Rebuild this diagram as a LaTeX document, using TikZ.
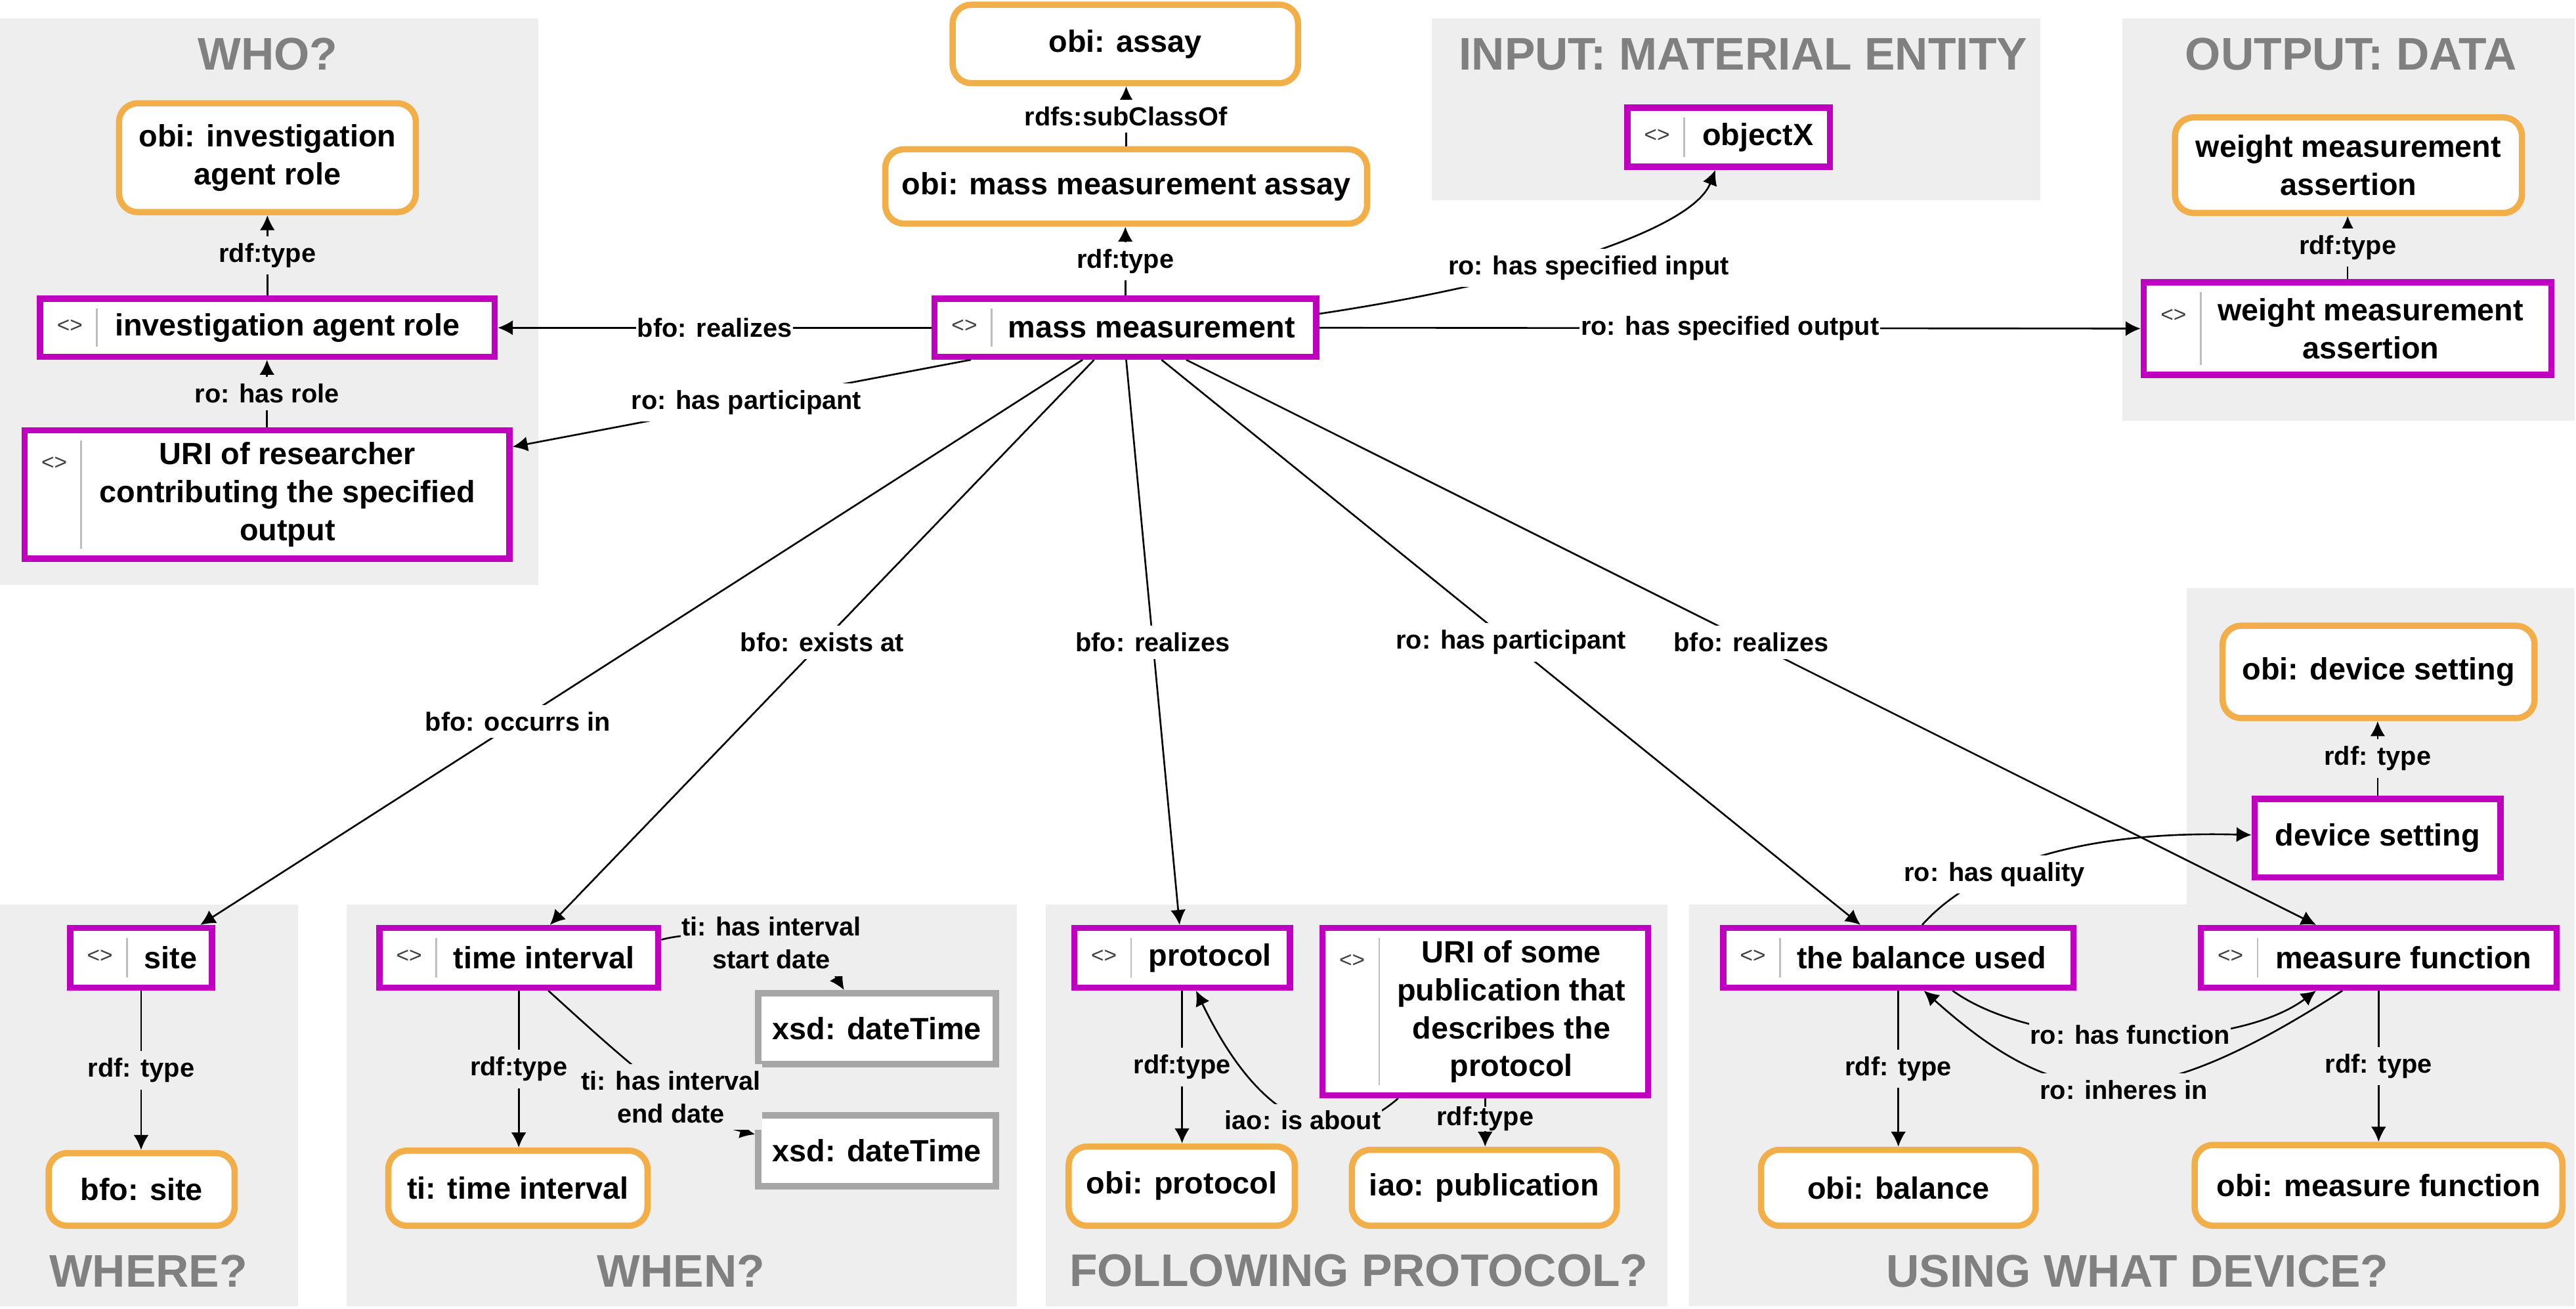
\documentclass[tikz,border=0pt]{standalone}
\usepackage{fontspec}
\setmainfont{Liberation Sans}
\usetikzlibrary{arrows.meta,calc}
\definecolor{purp}{RGB}{191,0,191}
\definecolor{oran}{RGB}{242,174,72}
\definecolor{regbg}{RGB}{238,238,238}
\definecolor{ttlc}{RGB}{128,128,128}
\definecolor{dtbc}{RGB}{166,166,166}
\definecolor{sepc}{RGB}{190,190,190}
\tikzset{
  region/.style={fill=regbg,draw=none},
  rtitle/.style={text=ttlc,font=\fontsize{19.8}{22}\selectfont\bfseries,inner sep=0pt},
  nfont/.style={font=\fontsize{13.3}{16.4}\selectfont\bfseries},
  pbox/.style={draw=purp,line width=2.7pt,fill=white,inner sep=0pt,nfont,align=center},
  obox/.style={draw=oran,line width=2.7pt,fill=white,rounded corners=8pt,inner sep=0pt,nfont,align=center},
  gbox/.style={draw=dtbc,line width=2.7pt,fill=white,inner sep=0pt,nfont,align=center},
  ptext/.style={nfont,align=center,inner sep=0pt},
  iconsty/.style={font=\fontsize{9.5}{9.5}\selectfont,text=black!75,inner sep=0pt},
  sepline/.style={draw=sepc,line width=0.8pt},
  lbl/.style={font=\fontsize{11.3}{14.2}\selectfont\bfseries,fill=white,inner xsep=0.5pt,inner ysep=3pt,align=center},
  glbl/.style={lbl,fill=regbg},
  arr/.style={-{Latex[length=6.5pt,width=6.5pt]},line width=0.75pt,draw=black},
}
% purple instance box: name, x1, y1, x2, y2, text centre x, text
\newcommand\PBox[7]{%
  \node[pbox,minimum width={(#4-#2-3.8)*0.025cm},minimum height={(#5-#3-3.8)*0.025cm}] (#1) at ({(#2+#4)/2},{(#3+#5)/2}) {};
  \node[iconsty] (#1i) at ({#2+20},{#3+min(23,(#5-#3)/2)-1}) {<>};
  \draw[sepline] ({#2+36.5},{#3+8}) -- ({#2+36.5},{#5-8});
  \node[ptext] (#1t) at (#6,{(#3+#5)/2}) {#7};
}
% orange class box: name, x1, y1, x2, y2, text
\newcommand\OBox[6]{%
  \node[obox,minimum width={(#4-#2-3.8)*0.025cm},minimum height={(#5-#3-3.8)*0.025cm}] (#1) at ({(#2+#4)/2},{(#3+#5)/2}) {#6};
}
% gray datatype box
\newcommand\GBox[6]{%
  \node[gbox,minimum width={(#4-#2-3.8)*0.025cm},minimum height={(#5-#3-3.8)*0.025cm}] (#1) at ({(#2+#4)/2},{(#3+#5)/2}) {#6};
}
\begin{document}
\begin{tikzpicture}[x=0.025cm,y=-0.025cm]
\useasboundingbox (0,0) rectangle (1568,796.4);
% regions
\fill[region] (0,11) rectangle (327.5,356);
\fill[region] (871.5,11) rectangle (1242,122);
\fill[region] (1292,11) rectangle (1567,256);
\fill[region] (0,550.6) rectangle (181.5,795);
\fill[region] (211,550.6) rectangle (619,795);
\fill[region] (636.5,550.6) rectangle (1015,795);
\fill[region] (1028,550.6) -- (1331,550.6) -- (1331,358) -- (1567,358) -- (1567,795) -- (1028,795) -- cycle;
% titles
\node[rtitle] (tWho) at (163,33) {WHO?};
\node[rtitle] (tIn) at (1061,33) {INPUT: MATERIAL ENTITY};
\node[rtitle] (tOut) at (1431,33) {OUTPUT: DATA};
\node[rtitle] (tWhere) at (90.3,773.5) {WHERE?};
\node[rtitle] (tWhen) at (414.5,773.5) {WHEN?};
\node[rtitle] (tProt) at (827,773.5) {FOLLOWING PROTOCOL?};
\node[rtitle] (tDev) at (1301,774) {USING WHAT DEVICE?};
% class boxes
\OBox{assay}{578}{1}{792}{52.5}{obi: assay}
\OBox{mma}{537}{89}{834}{138}{obi: mass measurement assay}
\OBox{oiar}{70.6}{61}{255}{131}{obi: investigation\\agent role}
\OBox{owma}{1322}{69.6}{1537}{131.5}{weight measurement\\assertion}
\OBox{bsite}{27.7}{700}{144.7}{748}{bfo: site}
\OBox{tti}{234.5}{698.5}{396}{748}{ti: time interval}
\OBox{oprot}{648.6}{696}{790}{748}{obi: protocol}
\OBox{ipub}{821}{698}{986}{748}{iao: publication}
\OBox{ods}{1351}{379}{1544.7}{439}{obi: device setting}
\OBox{obal}{1070}{698}{1241}{748}{obi: balance}
\OBox{omf}{1334}{695}{1561.6}{748}{obi: measure function}
\GBox{dta}{459.6}{602.6}{608}{649.6}{xsd: dateTime}
\GBox{dtb}{459.6}{677}{608}{724}{xsd: dateTime}
% instance boxes
\PBox{mm}{567}{180}{803}{219}{701}{mass measurement}
\PBox{iar}{22.5}{180}{303}{219}{175}{investigation agent role}
\PBox{urir}{13}{260}{312}{342}{175}{URI of researcher\\contributing the specified\\output}
\PBox{objx}{988.6}{63.7}{1115.7}{103.5}{1070}{objectX}
\PBox{wma}{1303}{170}{1555}{230}{1443}{weight measurement\\assertion}
\PBox{site}{40.8}{563}{131}{603}{104}{site}
\PBox{ti}{229}{563}{402.5}{603}{331}{time interval}
\PBox{prot}{652}{563}{787}{603}{736.5}{protocol}
\PBox{urip}{803}{563}{1005}{668.6}{920}{URI of some\\publication that\\describes the\\protocol}
\PBox{bal}{1047}{563}{1264}{603}{1169.6}{the balance used}
\PBox{mf}{1337.7}{563}{1558}{603}{1463}{measure function}
\node[pbox,minimum width={(1524-1370.5-3.8)*0.025cm},minimum height={(536-484.5-3.8)*0.025cm}] (ds) at ({(1370.5+1524)/2},{(484.5+536)/2}) {device setting};
% connectors: top
\draw[arr] (mma.north) -- (mma.north |- assay.south) node[lbl,midway] {rdfs:subClassOf};
\draw[arr] (mm.north) -- (mm.north |- mma.south) node[lbl,midway] {rdf:type};
\draw[arr] (mm.west) -- (iar.east) node[lbl,midway] {bfo: realizes};
\draw[arr] ($(mm.south)+(-94,0)$) -- ($(urir.east)+(0,-29)$) node[lbl,pos=0.49] {ro: has participant};
\draw[arr] ($(mm.east)+(0,-8.5)$) .. controls (930,172) and (1030,140) .. ($(objx.south)+(-8,0)$) node[lbl] at (967,163) {ro: has specified input};
\draw[arr] (mm.east) -- (wma.west) node[lbl,midway] {ro: has specified output};
\draw[arr] (wma.north) -- (wma.north |- owma.south) node[glbl,midway] {rdf:type};
\draw[arr] (iar.north) -- (iar.north |- oiar.south) node[glbl,midway] {rdf:type};
\draw[arr] (urir.north) -- (urir.north |- iar.south) node[glbl,midway] {ro: has role};
% connectors: fan out
\draw[arr] ($(mm.south)+(-26,0)$) -- ($(site.north)+(36,0)$) node[lbl,pos=0.64] {bfo: occurrs in};
\draw[arr] ($(mm.south)+(-19,0)$) -- ($(ti.north)+(19,0)$) node[lbl,midway] {bfo: exists at};
\draw[arr] ($(mm.south)+(0.5,0)$) -- ($(prot.north)+(-1.5,0)$) node[lbl,midway] {bfo: realizes};
\draw[arr] ($(mm.south)+(22,0)$) -- ($(bal.north)+(-23,0)$) node[lbl,midway] {ro: has participant};
\draw[arr] ($(mm.south)+(37,0)$) -- ($(mf.north)+(-38,0)$) node[lbl,midway] {bfo: realizes};
% where / when
\draw[arr] (site.south) -- (site.south |- bsite.north) node[glbl,midway] {rdf: type};
\draw[arr] (ti.south) -- (ti.south |- tti.north) node[glbl,midway] {rdf:type};
\draw[arr] ($(ti.east)+(0,-11)$) .. controls (440,562) and (500,580) .. ($(dta.north)+(-20,0)$) node[glbl] at (469.5,574) {ti: has interval\\start date};
\draw[arr] ($(ti.south)+(18,0)$) .. controls (380,645) and (419,681) .. ($(dtb.west)+(0,-10)$) node[glbl] at (408.5,667.7) {ti: has interval\\end date};
% protocol
\draw[arr] (prot.south) -- (prot.south |- oprot.north) node[glbl,midway] {rdf:type};
\draw[arr] ($(urip.south)+(-53,0)$) .. controls (815,700) and (770,690) .. ($(prot.south)+(8.5,0)$) node[glbl] at (793,682) {iao: is about};
\draw[arr] (urip.south) -- (urip.south |- ipub.north) node[glbl,pos=0.42,inner ysep=0pt] {rdf:type};
% device
\draw[arr] (ds.north) -- (ds.north |- ods.south) node[glbl,midway] {rdf: type};
\draw[arr] ($(bal.north)+(14.5,0)$) .. controls (1195,535) and (1250,505) .. ($(ds.west)+(0,-2)$) node[lbl] at (1214,532.3) {ro: has quality};
\draw[arr] (bal.south) -- (bal.south |- obal.north) node[glbl,midway] {rdf: type};
\draw[arr] (mf.south) -- (mf.south |- omf.north) node[glbl,midway] {rdf: type};
\draw[arr] ($(bal.south)+(33,0)$) .. controls (1240,640) and (1360,640) .. ($(mf.south)+(-38,0)$) node[glbl] at (1296.5,629.8) {ro: has function};
\draw[arr] ($(mf.south)+(-22,0)$) .. controls (1306,680) and (1255,678) .. ($(bal.south)+(15.5,0)$) node[glbl] at (1292.7,663.3) {ro: inheres in};
\end{tikzpicture}
\end{document}
